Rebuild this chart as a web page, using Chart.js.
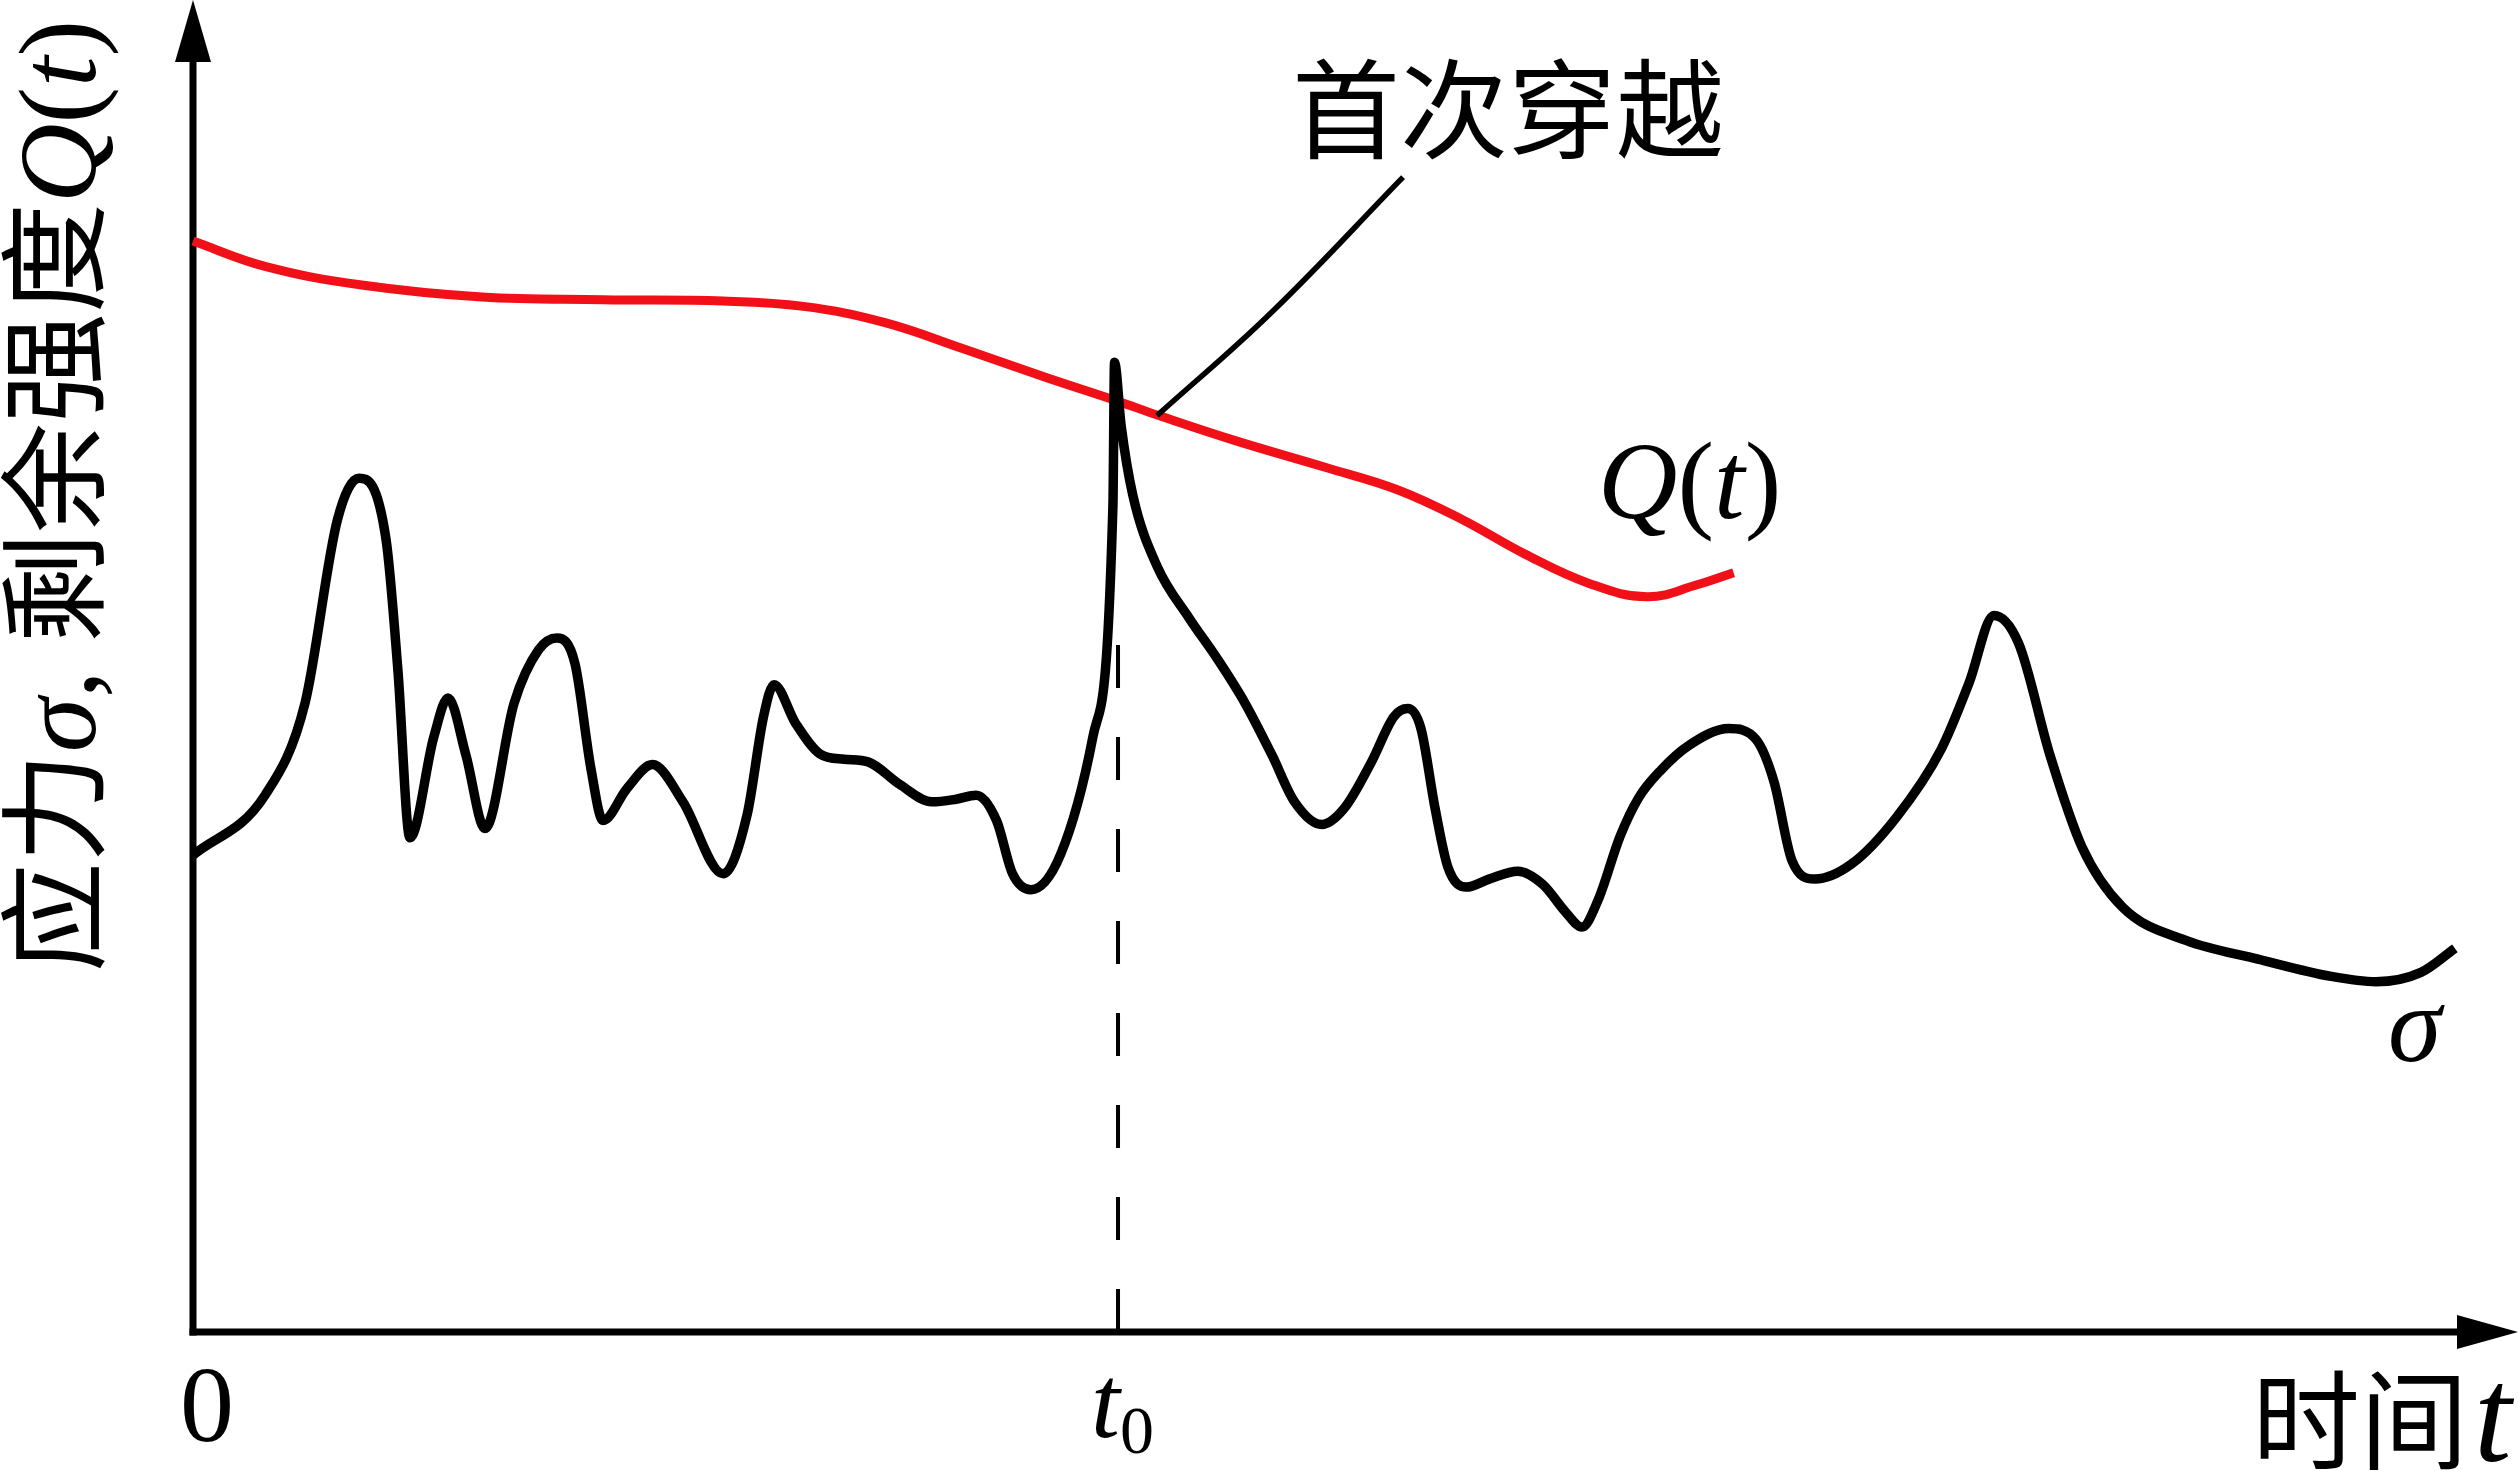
<!DOCTYPE html>
<html lang="zh">
  <head>
    <meta charset="UTF-8" />
    <title>首次穿越</title>
    <script src="https://cdn.jsdelivr.net/npm/chart.js"></script>
    <style>
      html, body { margin: 0; padding: 0; background: #fff; overflow: hidden; }
      canvas { display: block; }
    </style>
  </head>
  <body>
    <canvas id="firstPassage" width="2519" height="1471"></canvas>
    <script>
      // 时间 t（横轴 0~100），应力 σ / 剩余强度 Q(t)（纵轴 0~100）
      var sigmaT = [0, 3.10, 4.82, 6.22, 7.15, 8.31, 8.82, 9.34, 10.37, 10.98, 11.75, 12.57, 13.82, 14.87, 15.67,
        16.44, 17.13, 17.65, 18.68, 19.78, 21.09, 22.82, 23.85, 24.56, 25.01, 25.94, 26.99, 28.02, 29.06, 30.43,
        31.81, 32.85, 33.71, 34.59, 35.28, 36.07, 37.36, 38.74, 39.60, 39.67, 39.95, 40.46, 41.50, 42.88, 44.11,
        45.29, 46.45, 47.42, 48.59, 49.55, 50.73, 51.70, 52.29, 52.86, 53.47, 54.02, 54.82, 55.79, 57.04, 58.11,
        59.10, 59.79, 60.48, 61.43, 62.23, 63.20, 64.36, 66.12, 67.28, 68.06, 68.83, 69.82, 71.37, 73.31, 75.27,
        76.45, 77.53, 78.59, 79.94, 81.32, 83.06, 85.79, 88.89, 92.04, 93.97, 95.91, 97.37];
      var sigmaV = [35.8, 40.3, 47.2, 61.0, 64.1, 59.5, 49.7, 37.1, 44.7, 47.6, 43.3, 37.8, 47.2, 51.2, 52.1,
        50.2, 42.3, 38.4, 40.8, 42.6, 39.8, 34.4, 38.8, 46.2, 48.6, 45.7, 43.4, 43.0, 42.8, 41.1,
        39.8, 40.0, 40.3, 38.4, 34.4, 33.2, 35.9, 44.7, 62.0, 72.8, 68.1, 62.8, 57.5, 53.6, 50.5,
        47.2, 43.3, 39.8, 38.1, 39.3, 42.8, 46.2, 46.8, 45.3, 39.3, 34.9, 33.4, 34.0, 34.6, 33.6,
        31.5, 30.4, 32.4, 37.2, 40.1, 42.2, 44.0, 45.3, 44.5, 41.3, 35.4, 34.0, 35.1, 38.6, 43.8,
        48.7, 53.8, 51.7, 43.3, 36.4, 31.9, 29.4, 28.0, 26.7, 26.3, 27.0, 28.8];

      var strengthT = [0, 3.10, 7.26, 12.44, 17.65, 22.82, 26.28, 29.75, 33.19, 36.66, 39.78,
        41.58, 44.90, 48.77, 51.90, 54.63, 57.34, 60.10, 62.60, 64.75, 66.32];
      var strengthV = [81.9, 80.0, 78.6, 77.7, 77.5, 77.4, 77.0, 75.8, 73.8, 71.7, 69.9,
        68.8, 66.9, 64.9, 63.2, 61.0, 58.4, 56.2, 55.2, 56.1, 57.0];

      // “首次穿越”引线
      var leaderT = [41.50, 46.40, 52.09];
      var leaderV = [68.8, 76.5, 86.7];

      // t0 处的虚线
      var t0 = 39.82;
      var t0Top = 51.7;

      var tickValues = [0, t0];
      var tickLabels = ["0", "t0"];

      var CJK = '"Noto Sans CJK SC"';
      var SERIF = '"Liberation Serif"';

      function toPoints(xs, ys) {
        return xs.map(function (x, i) { return { x: x, y: ys[i] }; });
      }

      // 画一串不同字体的文字，返回总宽度
      function drawRuns(ctx, runs, x, y, measureOnly) {
        var cx = x;
        runs.forEach(function (r) {
          ctx.font = r.f;
          if (!measureOnly) ctx.fillText(r.t, cx + (r.dx || 0), y + (r.dy || 0));
          cx += ctx.measureText(r.t).width + (r.dx || 0);
        });
        return cx - x;
      }

      var axesPlugin = {
        id: "axesAndText",
        beforeDatasetsDraw: function (chart) {
          var ctx = chart.ctx;
          var xs = chart.scales.x, ys = chart.scales.y;
          var x0 = xs.getPixelForValue(0), y0 = ys.getPixelForValue(0);
          var xEnd = xs.getPixelForValue(xs.max), yEnd = ys.getPixelForValue(ys.max);
          ctx.save();
          ctx.strokeStyle = "#000";
          ctx.fillStyle = "#000";
          ctx.lineWidth = 7;
          ctx.beginPath();
          ctx.moveTo(x0, y0 + 3.5);
          ctx.lineTo(x0, yEnd + 50);
          ctx.stroke();
          ctx.beginPath();
          ctx.moveTo(x0 - 3.5, y0);
          ctx.lineTo(xEnd - 50, y0);
          ctx.stroke();
          // 箭头
          ctx.beginPath();
          ctx.moveTo(x0, yEnd);
          ctx.lineTo(x0 - 18, yEnd + 62);
          ctx.lineTo(x0 + 18, yEnd + 62);
          ctx.closePath();
          ctx.fill();
          ctx.beginPath();
          ctx.moveTo(xEnd + 2, y0);
          ctx.lineTo(xEnd - 59, y0 - 17);
          ctx.lineTo(xEnd - 59, y0 + 17);
          ctx.closePath();
          ctx.fill();
          ctx.restore();
        },
        afterDatasetsDraw: function (chart) {
          var ctx = chart.ctx;
          var xs = chart.scales.x;
          ctx.save();
          ctx.fillStyle = "#000";
          ctx.textBaseline = "alphabetic";
          ctx.textAlign = "left";

          // 横轴刻度 0 和 t0
          ctx.font = "108px " + SERIF;
          var p0 = xs.getPixelForValue(tickValues[0]);
          var w0 = ctx.measureText(tickLabels[0]).width;
          ctx.fillText(tickLabels[0], p0 + 14 - w0 / 2, 1441);
          var pt = xs.getPixelForValue(tickValues[1]);
          drawRuns(ctx, [
            { t: tickLabels[1].charAt(0), f: "italic 104px " + SERIF },
            { t: tickLabels[1].slice(1), f: "68px " + SERIF, dy: 16 }
          ], pt - 27, 1437);

          // 横轴标题
          drawRuns(ctx, [
            { t: "时间", f: "108px " + CJK },
            { t: "t", f: "italic 135px " + SERIF, dx: 6 }
          ], 2252, 1461);

          // 纵轴标题（竖排，从下往上）
          var yRuns = [
            { t: "应力", f: "110px " + CJK },
            { t: "σ", f: "italic 110px " + SERIF },
            { t: ", ", f: "110px " + SERIF },
            { t: "剩余强度", f: "110px " + CJK },
            { t: "Q", f: "italic 110px " + SERIF },
            { t: "(", f: "110px " + SERIF },
            { t: "t", f: "italic 110px " + SERIF },
            { t: ")", f: "110px " + SERIF }
          ];
          ctx.save();
          ctx.rotate(-Math.PI / 2);
          var wy = drawRuns(ctx, yRuns, 0, 0, true);
          drawRuns(ctx, yRuns, -(496 + wy / 2), 95);
          ctx.restore();

          // 曲线标注
          drawRuns(ctx, [{ t: "首次穿越", f: "108px " + CJK }], 1292, 150);
          drawRuns(ctx, [
            { t: "Q", f: "italic 110px " + SERIF },
            { t: "(", f: "110px " + SERIF },
            { t: "t", f: "italic 110px " + SERIF },
            { t: ")", f: "110px " + SERIF }
          ], 1598, 518);
          drawRuns(ctx, [{ t: "σ", f: "italic 108px " + SERIF }], 2388, 1061);
          ctx.restore();
        }
      };

      function build() {
        var ctx = document.getElementById("firstPassage").getContext("2d");
        new Chart(ctx, {
          type: "line",
          data: {
            datasets: [
              {
                label: "σ",
                data: toPoints(sigmaT, sigmaV),
                borderColor: "#000",
                borderWidth: 9.5,
                borderJoinStyle: "round",
                pointRadius: 0,
                cubicInterpolationMode: "monotone"
              },
              {
                label: "首次穿越",
                data: toPoints(leaderT, leaderV),
                borderColor: "#000",
                borderWidth: 5.5,
                pointRadius: 0,
                tension: 0.4
              },
              {
                label: "t0",
                data: toPoints([t0, t0], [0, t0Top]),
                borderColor: "#000",
                borderWidth: 4,
                borderDash: [43, 49],
                pointRadius: 0
              },
              {
                label: "Q(t)",
                data: toPoints(strengthT, strengthV),
                borderColor: "#f21018",
                borderWidth: 9,
                borderJoinStyle: "round",
                pointRadius: 0,
                tension: 0.4
              }
            ]
          },
          options: {
            responsive: false,
            animation: false,
            devicePixelRatio: 1,
            clip: false,
            layout: { padding: { left: 193, right: 3, top: 0, bottom: 139 } },
            plugins: { legend: { display: false }, tooltip: { enabled: false } },
            scales: {
              x: { type: "linear", min: 0, max: 100, display: false },
              y: { type: "linear", min: 0, max: 100, display: false }
            }
          },
          plugins: [axesPlugin]
        });
      }

      if (document.fonts && document.fonts.load) {
        Promise.all([
          document.fonts.load("108px " + CJK, "应力剩余强度首次穿越时间"),
          document.fonts.load("italic 108px " + SERIF, "Qtσ"),
          document.fonts.load("108px " + SERIF, "0()")
        ]).then(build, build);
      } else {
        build();
      }
    </script>
  </body>
</html>
